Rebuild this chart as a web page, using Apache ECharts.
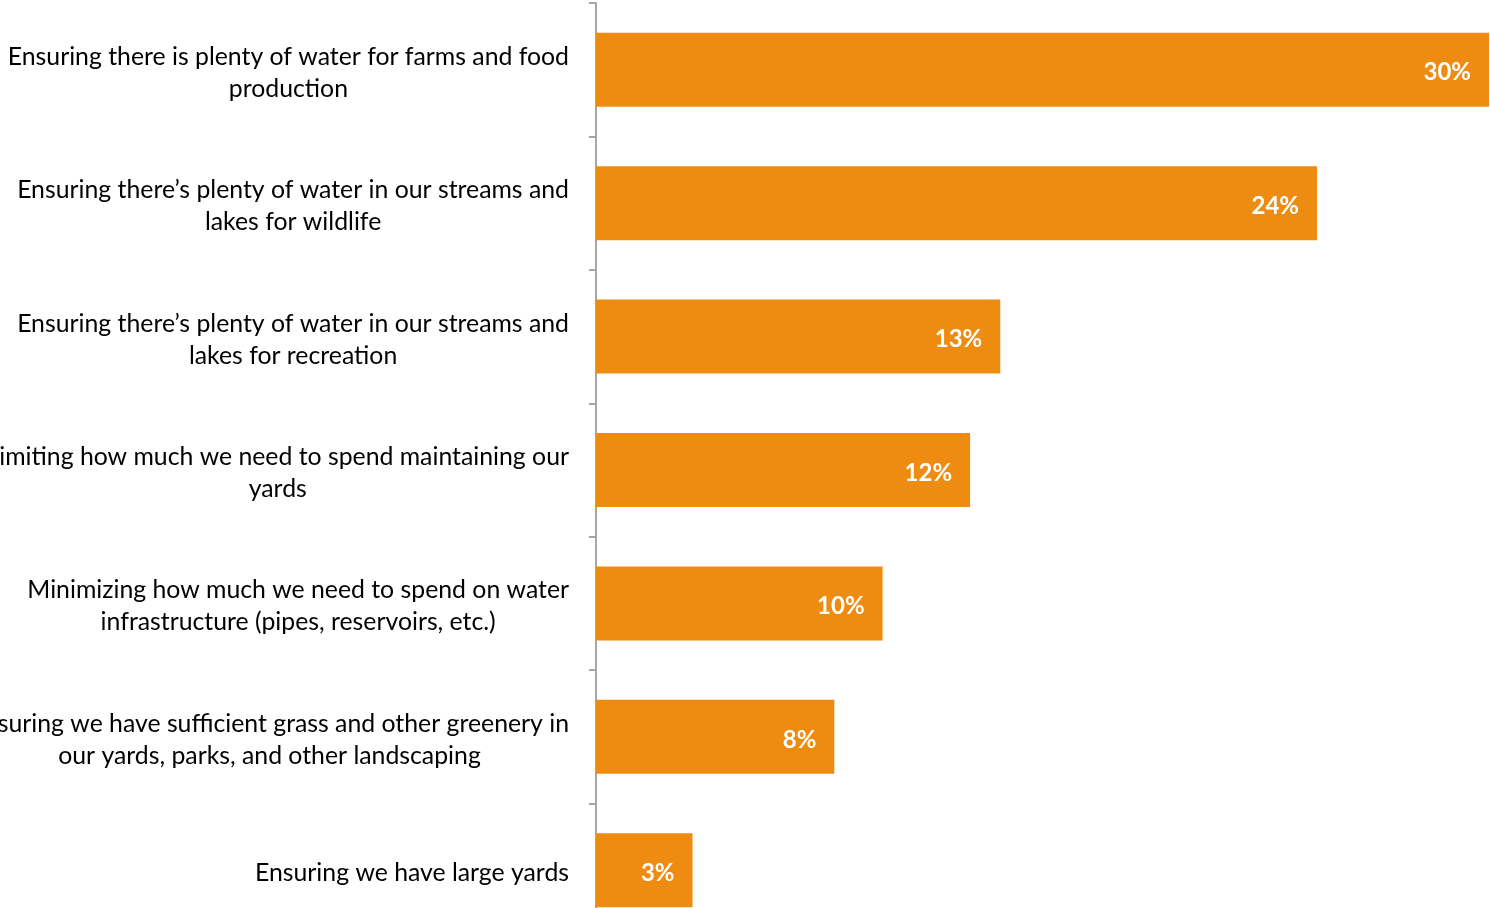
<!DOCTYPE html>
<html>
<head>
<meta charset="utf-8">
<script src="https://cdn.jsdelivr.net/npm/echarts@6/dist/echarts.min.js"></script>
<style>
    html, body { margin: 0; padding: 0; background: #fff; }
    #chart { width: 1490px; height: 908px; }
</style>
</head>
<body>
<div id="chart"></div>
<script>
    // categories, top to bottom
    var categories = [
        'Ensuring there is plenty of water for farms and food\nproduction',
        'Ensuring there\u2019s plenty of water in our streams and\nlakes for wildlife',
        'Ensuring there\u2019s plenty of water in our streams and\nlakes for recreation',
        'Limiting how much we need to spend maintaining our\nyards',
        'Minimizing how much we need to spend on water\ninfrastructure (pipes, reservoirs, etc.)',
        'Ensuring we have sufficient grass and other greenery in\nour yards, parks, and other landscaping',
        'Ensuring we have large yards'
    ];
    // share of respondents (%)
    var values = [29.6, 23.9, 13.4, 12.4, 9.5, 7.9, 3.2];

    var chart = echarts.init(document.getElementById('chart'));
    var option = {
        animation: false,
        grid: {
            left: 596,
            right: 1,
            top: 3,
            height: 934,
            containLabel: false,
            outerBoundsMode: 'none'
        },
        xAxis: {
            type: 'value',
            min: 0,
            max: 'dataMax',
            show: false
        },
        yAxis: {
            type: 'category',
            inverse: true,
            data: categories,
            offset: 2,
            axisLine: { show: true, lineStyle: { color: '#a6a6a6', width: 2 } },
            axisTick: { show: true, length: 7, lineStyle: { color: '#a6a6a6', width: 2 } },
            axisLabel: {
                interval: 0,
                margin: 25,
                padding: [6, 0, 0, 0],
                formatter: function (v) {
                    return v.split('\n').map(function (s) { return '{c|' + s + '}'; }).join('\n');
                },
                rich: {
                    c: {
                        align: 'center',
                        fontFamily: 'Lato',
                        fontSize: 24.8,
                        lineHeight: 32,
                        color: '#000'
                    }
                }
            }
        },
        series: [{
            type: 'bar',
            data: values,
            barWidth: 74,
            itemStyle: { color: '#ee8c11' },
            label: {
                show: true,
                position: 'insideRight',
                distance: 18,
                offset: [0, 3],
                color: '#fff',
                fontFamily: 'Lato',
                fontWeight: 'bold',
                fontSize: 24,
                formatter: function (p) { return Math.round(p.value) + '%'; }
            }
        }]
    };
    chart.setOption(option);
</script>
</body>
</html>
